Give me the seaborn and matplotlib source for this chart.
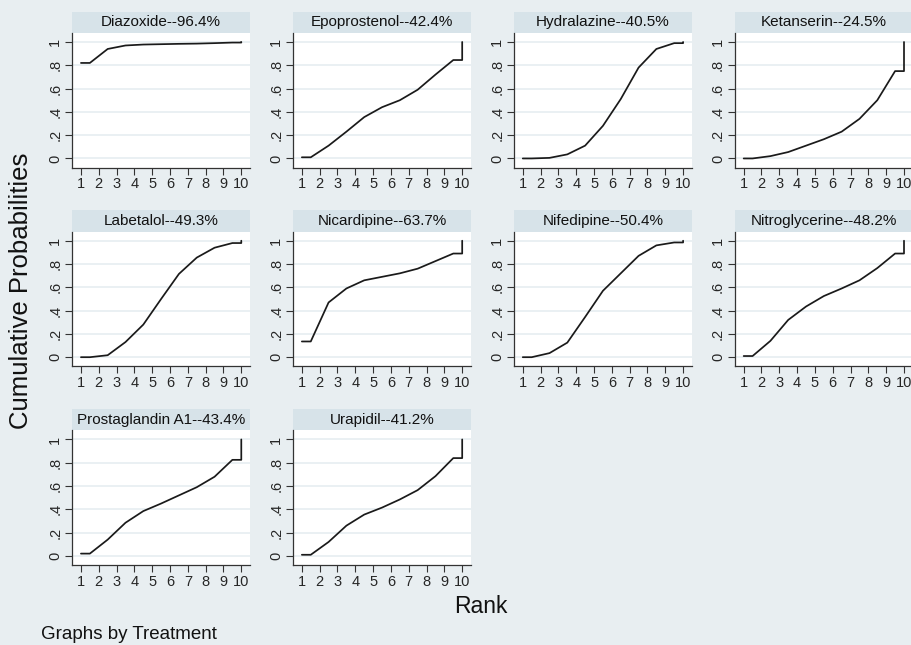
import numpy as np
import pandas as pd
import matplotlib.pyplot as plt
from matplotlib.patches import Rectangle
import seaborn as sns

sns.set_theme(style="white")
plt.rcParams['font.family'] = ['Liberation Sans', 'DejaVu Sans']

# Data: cumulative probability of being within the best k ranks (k = 1..9)
treatments = ['Diazoxide', 'Epoprostenol', 'Hydralazine', 'Ketanserin',
              'Labetalol', 'Nicardipine', 'Nifedipine', 'Nitroglycerine',
              'Prostaglandin A1', 'Urapidil']
sucra = ['96.4%', '42.4%', '40.5%', '24.5%', '49.3%', '63.7%', '50.4%',
         '48.2%', '43.4%', '41.2%']

diazoxide = [0.82, 0.94, 0.97, 0.978, 0.981, 0.984, 0.986, 0.99, 0.995]
epoprostenol = [0.01, 0.11, 0.23, 0.355, 0.44, 0.50, 0.59, 0.72, 0.845]
hydralazine = [0.0, 0.005, 0.035, 0.11, 0.28, 0.51, 0.78, 0.94, 0.99]
ketanserin = [0.0, 0.02, 0.055, 0.11, 0.165, 0.23, 0.34, 0.50, 0.75]
labetalol = [0.0, 0.017, 0.13, 0.28, 0.50, 0.715, 0.855, 0.94, 0.98]
nicardipine = [0.135, 0.47, 0.59, 0.66, 0.69, 0.72, 0.76, 0.825, 0.89]
nifedipine = [0.0, 0.035, 0.125, 0.345, 0.57, 0.72, 0.87, 0.96, 0.985]
nitroglycerine = [0.01, 0.14, 0.32, 0.435, 0.525, 0.59, 0.66, 0.765, 0.89]
prostaglandin = [0.02, 0.14, 0.285, 0.385, 0.45, 0.52, 0.59, 0.68, 0.825]
urapidil = [0.01, 0.12, 0.26, 0.355, 0.415, 0.485, 0.565, 0.685, 0.84]

cumulative = [diazoxide, epoprostenol, hydralazine, ketanserin, labetalol,
              nicardipine, nifedipine, nitroglycerine, prostaglandin, urapidil]

ranks = np.arange(1, 11)

bg = '#e8eef1'
strip = '#d7e3e9'
grid = '#e6eef1'

fig, axes = plt.subplots(3, 4, figsize=(9.12, 6.45), dpi=100)
fig.patch.set_facecolor(bg)
fig.subplots_adjust(left=0.079, right=1.001, top=0.949, bottom=0.124,
                    wspace=0.24, hspace=0.476)

for i, ax in enumerate(axes.flat):
    if i >= len(treatments):
        ax.set_visible(False)
        continue
    c = cumulative[i]
    # flat start, segments through the mid-rank points, jump to 1 at rank 10
    xs = [1.0] + list(ranks[:-1] + 0.5) + [10.0, 10.0]
    ys = [c[0]] + list(c) + [c[-1], 1.0]
    d = pd.DataFrame({'rank': xs, 'prob': ys})
    sns.lineplot(data=d, x='rank', y='prob', sort=False, estimator=None,
                 color='#1a1a1a', linewidth=1.25, ax=ax)
    ax.set_facecolor('white')
    ax.set_xlim(0.5, 10.5)
    ax.set_ylim(-0.078, 1.078)
    ax.set_xticks(ranks)
    ax.set_xticklabels([str(r) for r in ranks], fontsize=10.5)
    ax.set_yticks([0, 0.2, 0.4, 0.6, 0.8, 1.0])
    ax.set_yticklabels(['0', '.2', '.4', '.6', '.8', '1'], fontsize=10.5,
                       rotation=90, va='center')
    ax.yaxis.grid(True, color=grid, linewidth=1.2)
    ax.set_axisbelow(True)
    for s in ['top', 'right']:
        ax.spines[s].set_visible(False)
    for s in ['left', 'bottom']:
        ax.spines[s].set_color('#333333')
        ax.spines[s].set_linewidth(0.9)
    ax.tick_params(axis='both', direction='out', length=5, width=0.8,
                   color='#333333', pad=2, left=True, bottom=True)
    ax.set_xlabel('')
    ax.set_ylabel('')
    ax.add_patch(Rectangle((0, 1), 1, 0.157, transform=ax.transAxes,
                           facecolor=strip, edgecolor='none', clip_on=False))
    ax.text(0.5, 1.078, f'{treatments[i]}--{sucra[i]}', transform=ax.transAxes,
            ha='center', va='center', fontsize=11, color='#111111')

fig.text(0.023, 0.549, 'Cumulative Probabilities', rotation=90, ha='center',
         va='center', fontsize=18.5, color='#111111')
fig.text(0.527, 0.059, 'Rank', ha='center', va='center', fontsize=16.5,
         color='#111111')
fig.text(0.045, 0.016, 'Graphs by Treatment', ha='left', va='center',
         fontsize=13.5, color='#111111')

plt.savefig('out.png', dpi=100, facecolor=bg)
plt.close()
